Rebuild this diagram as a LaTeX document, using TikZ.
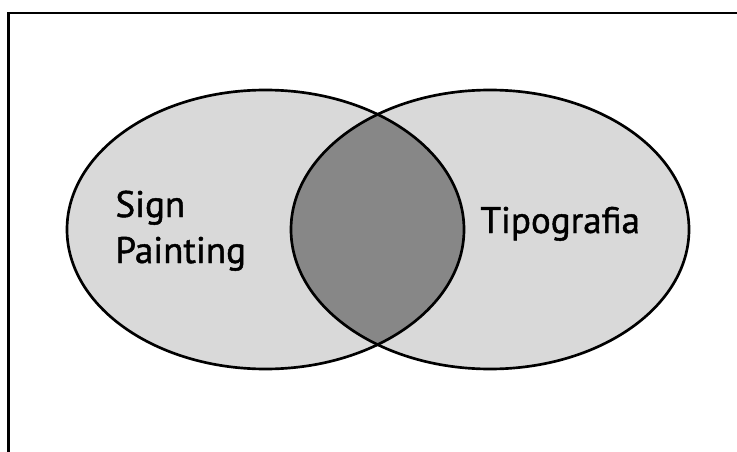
\documentclass[tikz,border=0pt]{standalone}
\usepackage{fontspec}
\setmainfont{PT Sans}
\newfontfamily\lblfont{PT Sans}[FakeBold=1.2]
\tikzset{every picture/.style={line width=0.75pt}}
\tikzset{
  lbl/.style={inner sep=0pt, anchor=base west, align=left, font=\lblfont\fontsize{27.75}{34.5}\selectfont},
}

\begin{document}
\begin{tikzpicture}[x=0.75pt,y=0.75pt,yscale=-1,xscale=1]
\useasboundingbox (0,0) rectangle (737,452);

%Frame
\draw [line width=2]    (8.5,452) -- (8.5,13) -- (737,13) ;

%Shape: Ellipse left
\fill [color={rgb, 255:red, 217; green, 217; blue, 217 }] (265.5,229.5) ellipse [x radius=198.5, y radius=139.5] ;
%Shape: Ellipse right
\fill [color={rgb, 255:red, 217; green, 217; blue, 217 }] (490,229.5) ellipse [x radius=199, y radius=139.5] ;

%Shape: overlap
\begin{scope}
\clip (265.5,229.5) ellipse [x radius=198.5, y radius=139.5] ;
\fill [color={rgb, 255:red, 135; green, 135; blue, 135 }] (490,229.5) ellipse [x radius=199, y radius=139.5] ;
\end{scope}

%Outlines
\draw [line width=2] (265.5,229.5) ellipse [x radius=198.5, y radius=139.5] ;
\draw [line width=2] (490,229.5) ellipse [x radius=199, y radius=139.5] ;

% Text Node
\node (sign) [lbl] at (115,263) {Sign\\Painting};
% Text Node
\node (tipo) [lbl] at (480,233) {Tipografia};

\end{tikzpicture}
\end{document}
